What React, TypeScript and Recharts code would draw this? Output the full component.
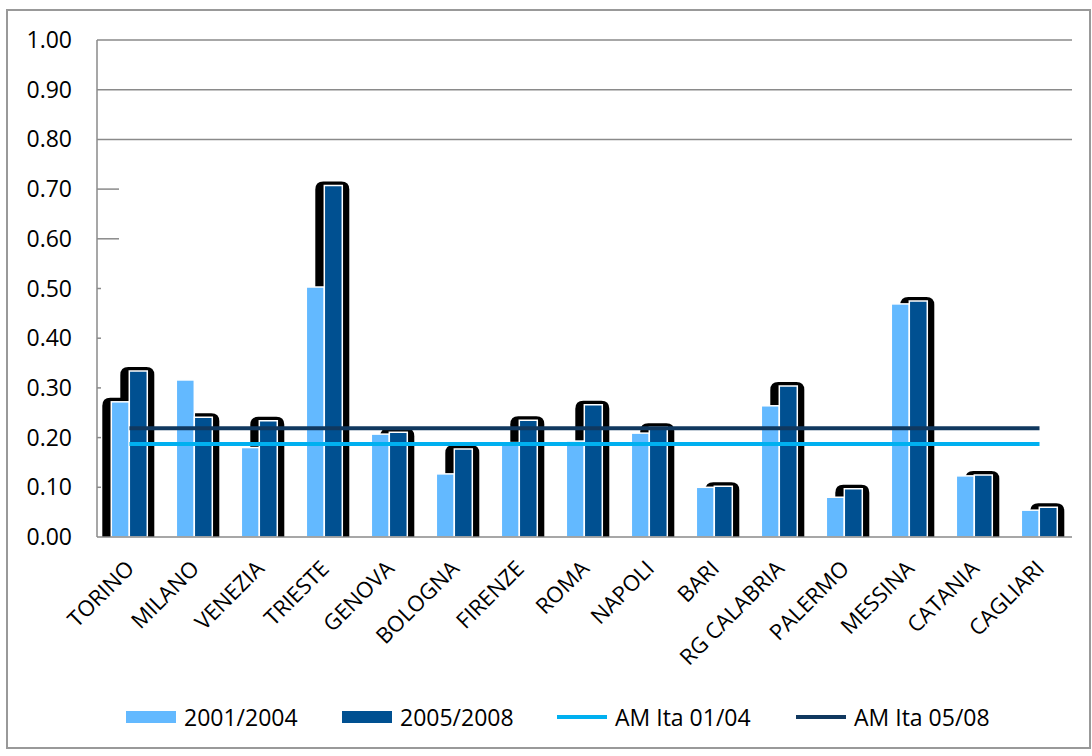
import { Bar, ComposedChart, Line, XAxis, YAxis, CartesianGrid } from "recharts";

const cities = [
  "TORINO",
  "MILANO",
  "VENEZIA",
  "TRIESTE",
  "GENOVA",
  "BOLOGNA",
  "FIRENZE",
  "ROMA",
  "NAPOLI",
  "BARI",
  "RG CALABRIA",
  "PALERMO",
  "MESSINA",
  "CATANIA",
  "CAGLIARI",
];

const values0104 = [0.272, 0.316, 0.18, 0.503, 0.207, 0.127, 0.19, 0.193, 0.209, 0.1, 0.264, 0.08, 0.469, 0.123, 0.054];
const values0508 = [0.334, 0.241, 0.234, 0.707, 0.211, 0.177, 0.235, 0.266, 0.221, 0.102, 0.304, 0.097, 0.475, 0.125, 0.06];
const amIta0104 = [0.187, 0.187, 0.187, 0.187, 0.187, 0.187, 0.187, 0.187, 0.187, 0.187, 0.187, 0.187, 0.187, 0.187, 0.187];
const amIta0508 = [0.219, 0.219, 0.219, 0.219, 0.219, 0.219, 0.219, 0.219, 0.219, 0.219, 0.219, 0.219, 0.219, 0.219, 0.219];

const yTicks = [0, 0.1, 0.2, 0.3, 0.4, 0.5, 0.6, 0.7, 0.8, 0.9, 1.0];
const gridValues = [0.8, 0.9, 1.0];

const data = cities.map((city, i) => ({
  city,
  v0104: values0104[i],
  v0508: values0508[i],
  am0104: amIta0104[i],
  am0508: amIta0508[i],
}));

const FONT = "'Open Sans', sans-serif";
const LIGHT = "#63B9FF";
const DARK = "#005091";
const LINE_LIGHT = "#00B0F0";
const LINE_DARK = "#10385F";
const GRAY = "#8a8a8a";

const legendItems = [
  { label: "2001/2004", color: LIGHT, kind: "rect", left: 118 },
  { label: "2005/2008", color: DARK, kind: "rect", left: 334 },
  { label: "AM Ita 01/04", color: LINE_LIGHT, kind: "line", left: 549 },
  { label: "AM Ita 05/08", color: LINE_DARK, kind: "line", left: 788 },
];

const shadowPath = (x0: number, x1: number, top: number, bottom: number, r: number) =>
  `M${x0},${bottom} L${x0},${top + r} Q${x0},${top} ${x0 + r},${top} L${x1 - r},${top} Q${x1},${top} ${x1},${top + r} L${x1},${bottom} Z`;

// light bar draws the black shadows first so both series sit on top of them
const LightBar = (props: any) => {
  const { x, y, width, height, payload, index } = props;
  const base = y + height;
  const k = height / payload.v0104;
  const dx = x + width;
  const dTop = base - payload.v0508 * k;
  return (
    <g>
      <path d={shadowPath(dx - 9, dx + width + 7, dTop - 4, base, 8)} fill="#000" />
      {index === 0 && <path d={shadowPath(x - 9, x + width + 4, y - 4, base, 8)} fill="#000" />}
      <rect x={x} y={y} width={width} height={height} fill={LIGHT} stroke="#fff" strokeWidth={1.5} />
    </g>
  );
};

const LeftTick = (props: any) => {
  const { x, y, payload } = props;
  const v = payload.value;
  let len = 0;
  if (v > 0 && v <= 0.5) len = 4;
  if (v > 0.55 && v < 0.75) len = 22;
  return (
    <g>
      {len > 0 && <line x1={x} x2={x + len} y1={y} y2={y} stroke={GRAY} strokeWidth={1.5} />}
      <text x={x - 25} y={y} dy={8} textAnchor="end" fontSize={23} fontFamily={FONT} fill="#000">
        {v.toFixed(2)}
      </text>
    </g>
  );
};

const RightTick = (props: any) => {
  const { x, y, payload } = props;
  const v = payload.value;
  if (v <= 0 || v >= 0.75) return <g />;
  return <line x1={x - 4} x2={x} y1={y} y2={y} stroke={GRAY} strokeWidth={1.5} />;
};

const CityTick = (props: any) => {
  const { x, y, payload } = props;
  return (
    <text
      x={0}
      y={0}
      transform={`translate(${x + 6},${y + 33}) rotate(-45)`}
      textAnchor="end"
      fontSize={22}
      fontFamily={FONT}
      fill="#000"
    >
      {payload.value}
    </text>
  );
};

export default function App() {
  return (
    <div
      style={{
        position: "absolute",
        left: 6,
        top: 9,
        width: 1081,
        height: 736,
        border: "2px solid #999",
        background: "#fff",
      }}
    >
      <ComposedChart
        width={1081}
        height={736}
        data={data}
        margin={{ top: 29, right: 17, left: 0, bottom: 60 }}
        barCategoryGap="22%"
        barGap={0}
      >
        <CartesianGrid vertical={false} horizontalValues={gridValues} stroke={GRAY} strokeWidth={1.5} yAxisId="left" />
        <XAxis
          dataKey="city"
          interval={0}
          height={150}
          tickSize={0}
          tickMargin={0}
          tick={<CityTick />}
          axisLine={{ stroke: GRAY, strokeWidth: 1.5 }}
        />
        <YAxis
          yAxisId="left"
          domain={[0, 1]}
          ticks={yTicks}
          width={89}
          tickSize={0}
          tickMargin={0}
          tickLine={false}
          tick={<LeftTick />}
          axisLine={{ stroke: GRAY, strokeWidth: 1.5 }}
        />
        <YAxis
          yAxisId="right"
          orientation="right"
          domain={[0, 1]}
          ticks={yTicks}
          width={0}
          tickSize={0}
          tickMargin={0}
          tickLine={false}
          axisLine={false}
          tick={<RightTick />}
        />
        <Bar yAxisId="left" dataKey="v0104" fill={LIGHT} shape={<LightBar />} isAnimationActive={false} />
        <Bar yAxisId="left" dataKey="v0508" fill={DARK} stroke="#fff" strokeWidth={1.5} isAnimationActive={false} />
        <Line yAxisId="left" dataKey="am0104" stroke={LINE_LIGHT} strokeWidth={4} dot={false} activeDot={false} isAnimationActive={false} />
        <Line yAxisId="left" dataKey="am0508" stroke={LINE_DARK} strokeWidth={4} dot={false} activeDot={false} isAnimationActive={false} />
      </ComposedChart>
      {legendItems.map((item) => (
        <div
          key={item.label}
          style={{
            position: "absolute",
            left: item.left,
            top: 691,
            height: 30,
            display: "flex",
            alignItems: "center",
            gap: 8,
            fontFamily: FONT,
            fontSize: 23,
            whiteSpace: "nowrap",
          }}
        >
          <span
            style={{
              display: "inline-block",
              width: 50,
              height: item.kind === "rect" ? 12 : 4,
              background: item.color,
            }}
          />
          <span>{item.label}</span>
        </div>
      ))}
    </div>
  );
}
